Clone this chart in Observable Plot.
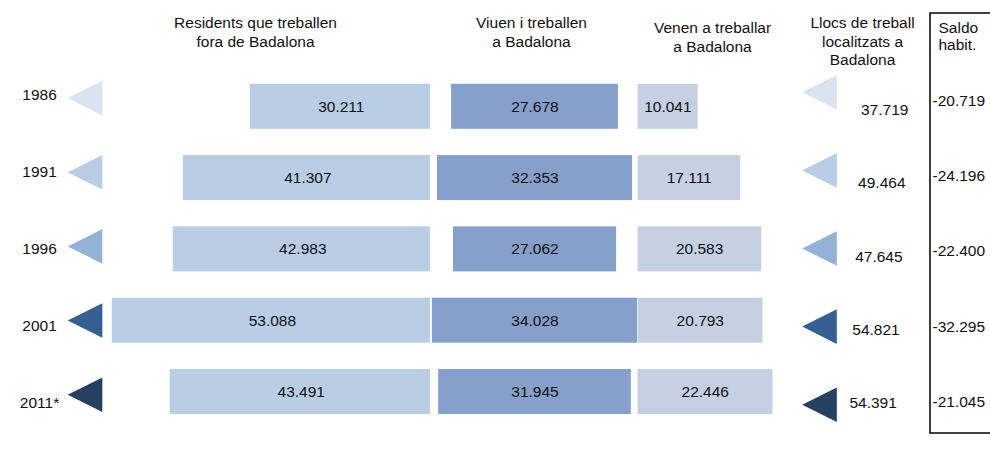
<!DOCTYPE html>
<html>
<head>
<meta charset="utf-8">
<script src="https://cdn.jsdelivr.net/npm/d3@7"></script>
<script src="https://cdn.jsdelivr.net/npm/@observablehq/plot@0.6"></script>
<style>
  html, body { margin: 0; padding: 0; background: #ffffff; }
  #chart { width: 990px; height: 450px; }
</style>
</head>
<body>
<div id="chart"></div>
<script>
// ---- data ----
const years = ["1986", "1991", "1996", "2001", "2011*"];
const fora  = [30211, 41307, 42983, 53088, 43491];   // Residents que treballen fora de Badalona
const viuen = [27678, 32353, 27062, 34028, 31945];   // Viuen i treballen a Badalona
const venen = [10041, 17111, 20583, 20793, 22446];   // Venen a treballar a Badalona
const llocs = [37719, 49464, 47645, 54821, 54391];   // Llocs de treball localitzats a Badalona
const saldo = [-20719, -24196, -22400, -32295, -21045]; // Saldo habit.
const headers = [
  "Residents que treballen\nfora de Badalona",
  "Viuen i treballen\na Badalona",
  "Venen a treballar\na Badalona",
  "Llocs de treball\nlocalitzats a\nBadalona"
];
const saldoHeader = "Saldo\nhabit.";

// ---- styles / layout ----
const triColors = ["#dae4f1", "#b8cce4", "#94b2d6", "#376092", "#254061"];
const colFora = "#b9cde5", colViuen = "#84a0cb", colVenen = "#c5d0e3";
const font = "'Liberation Sans', Arial, sans-serif";
const fs = 15.5;
const W = 990, H = 450;
const pxPer = 6.03 / 1000, cx = 534.5;   // px per person, center of middle column
const y0 = 106.3, ystep = 71.3;           // row layout
const xAt = px => (px - cx) / pxPer;
const yAt = py => (py - y0) / ystep;
const maxMid = d3.max(viuen);
const half = 22.5 / ystep;
const headerPos = [[255, 30.5], [531, 31], [712, 36], [862, 40]];

const loc = d3.formatLocale({decimal: ",", thousands: ".", grouping: [3], currency: ["", ""], minus: "-"});
const fmt = loc.format(",d");

const rows = years.map((year, i) => ({
  year, i, fora: fora[i], viuen: viuen[i], venen: venen[i],
  llocs: llocs[i], saldo: saldo[i], tri: triColors[i]
}));

// left-pointing isoceles triangle
const leftTri = {
  draw(ctx, size) {
    const r = Math.sqrt(size / Math.PI);
    ctx.moveTo(-r, 0);
    ctx.lineTo(r, -r);
    ctx.lineTo(r, r);
    ctx.closePath();
  }
};

const rowAt = (start, step) => d => yAt(start + step * d.i);

const chart = Plot.plot({
  width: W, height: H,
  marginTop: 0, marginRight: 0, marginBottom: 0, marginLeft: 0,
  x: {domain: [xAt(0), xAt(W)], range: [0, W], axis: null},
  y: {domain: [0, 1], range: [y0, y0 + ystep], axis: null},
  color: {type: "identity"},
  style: {fontFamily: font, fontSize: fs + "px", background: "#ffffff", color: "#000"},
  marks: [
    // bars
    Plot.rect(rows, {x1: d => -maxMid / 2 - d.fora, x2: d => -maxMid / 2,
      y1: d => d.i - half, y2: d => d.i + half, fill: colFora, insetRight: 2}),
    Plot.rect(rows, {x1: d => -d.viuen / 2, x2: d => d.viuen / 2,
      y1: d => d.i - half, y2: d => d.i + half, fill: colViuen}),
    Plot.rect(rows, {x1: d => maxMid / 2, x2: d => maxMid / 2 + d.venen,
      y1: d => d.i - half, y2: d => d.i + half, fill: colVenen, insetLeft: 0.5}),
    // bar labels
    Plot.text(rows, {x: d => -maxMid / 2 - d.fora / 2, y: d => d.i, text: d => fmt(d.fora), fontSize: fs, fill: "#111"}),
    Plot.text(rows, {x: d => 0, y: d => d.i, text: d => fmt(d.viuen), fontSize: fs, fill: "#111"}),
    Plot.text(rows, {x: d => maxMid / 2 + d.venen / 2, y: d => d.i, text: d => fmt(d.venen), fontSize: fs, fill: "#111"}),
    // left triangles + year labels
    Plot.dot(rows, {x: d => xAt(84.5), y: rowAt(97.6, 74.15), symbol: leftTri, r: 17.3, fill: "tri", stroke: null}),
    Plot.text(rows, {x: d => xAt(39), y: rowAt(94.8, 77), text: "year", fontSize: fs, fill: "#111"}),
    // right triangles + llocs values
    Plot.dot(rows, {x: d => xAt(819), y: rowAt(91.8, 78.1), symbol: leftTri, r: 17.3, fill: "tri", stroke: null}),
    Plot.text(rows, {x: d => xAt(884.2 - 2.9 * d.i), y: rowAt(109.8, 73.2), text: d => fmt(d.llocs), fontSize: fs, fill: "#111"}),
    // saldo column
    Plot.text(rows, {x: d => xAt(932), y: rowAt(100.4, 75.3), text: d => fmt(d.saldo), textAnchor: "start", fontSize: fs, fill: "#111"}),
    Plot.rect([0], {x1: () => xAt(930), x2: () => xAt(W + 10), y1: () => yAt(13), y2: () => yAt(433),
      fill: "none", stroke: "#000", strokeWidth: 1.5}),
    // headers
    Plot.text(headers, {x: (d, i) => xAt(headerPos[i][0]), y: (d, i) => yAt(headerPos[i][1]), text: d => d,
      fontSize: fs, lineHeight: 1.22, fill: "#111"}),
    Plot.text([saldoHeader], {x: () => xAt(938), y: () => yAt(35.5), text: d => d, textAnchor: "start",
      fontSize: fs, lineHeight: 1.1, fill: "#111"})
  ]
});
document.getElementById("chart").appendChild(chart);
</script>
</body>
</html>
